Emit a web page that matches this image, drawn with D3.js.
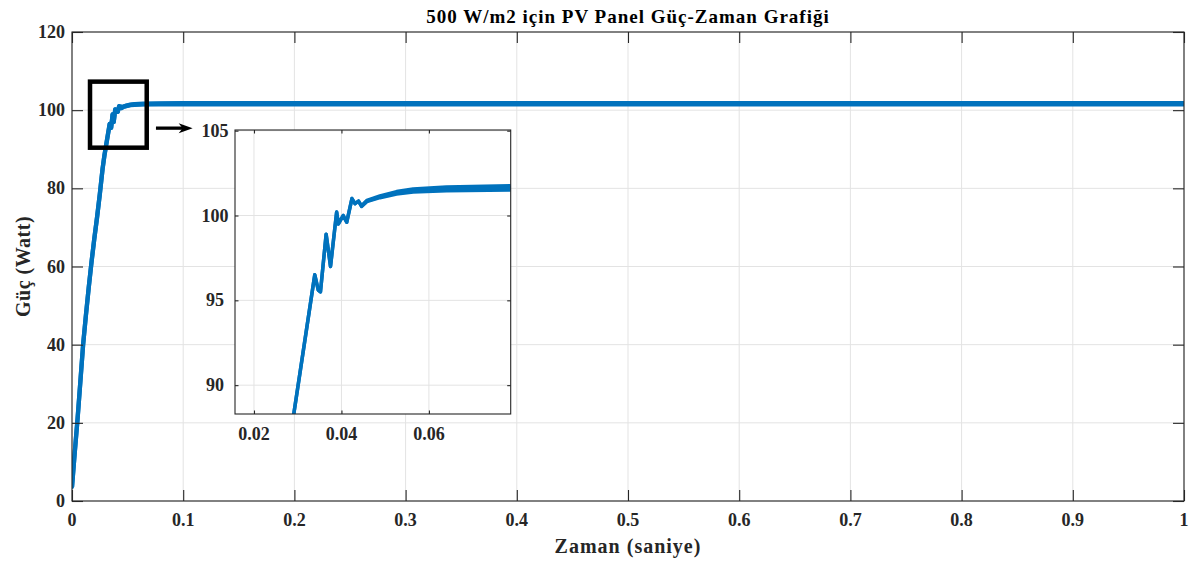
<!DOCTYPE html>
<html>
<head>
<meta charset="utf-8">
<script src="https://cdn.jsdelivr.net/npm/d3@7"></script>
<style>
  html, body { margin: 0; padding: 0; background: #fff; }
  svg { display: block; font-family: "Liberation Serif", "Times New Roman", serif; font-weight: bold; }
</style>
</head>
<body>
<svg id="chart" width="1200" height="564"></svg>
<script>
// ---------------- data ----------------
const titleText = "500 W/m2 için PV Panel Güç-Zaman Grafiği";
const xLabel = "Zaman (saniye)";
const yLabel = "Güç (Watt)";

const time  = [0, 0.0025, 0.005, 0.0075, 0.01, 0.0125, 0.015, 0.0175, 0.02, 0.0225, 0.025, 0.0275, 0.0291,
               0.0336, 0.0339, 0.0347, 0.0352, 0.0365, 0.0375, 0.0389, 0.0393, 0.0404, 0.0412, 0.0424,
               0.0431, 0.0439, 0.0446, 0.0458, 0.0488, 0.0526, 0.0564, 0.064, 0.0785, 0.1, 0.2, 0.4, 0.6, 0.8, 1.0];
const power = [3.6, 12.5, 21, 30.5, 40, 47.5, 54.5, 61, 67, 72.5, 78.5, 85, 88.3,
               96.0, 96.5, 95.6, 95.5, 98.9, 97.0, 100.2, 99.5, 100.0, 99.6, 101.0,
               100.7, 100.85, 100.55, 100.85, 101.1, 101.34, 101.47, 101.57, 101.63, 101.65, 101.65, 101.65, 101.65, 101.65, 101.65];
// half-amplitude of the steady-state ripple band (W)
const ripple = [0, 0, 0, 0, 0, 0, 0, 0, 0, 0, 0, 0, 0,
                0, 0, 0, 0, 0, 0, 0, 0, 0, 0, 0,
                0, 0, 0.02, 0.035, 0.05, 0.07, 0.09, 0.11, 0.125, 0.13, 0.13, 0.13, 0.13, 0.13, 0.13];

const xTicks = [0, 0.1, 0.2, 0.3, 0.4, 0.5, 0.6, 0.7, 0.8, 0.9, 1];
const xTickLabels = ["0", "0.1", "0.2", "0.3", "0.4", "0.5", "0.6", "0.7", "0.8", "0.9", "1"];
const yTicks = [0, 20, 40, 60, 80, 100, 120];
const xDomain = [0, 1];
const yDomain = [0, 120];

const insetXTicks = [0.02, 0.04, 0.06];
const insetXTickLabels = ["0.02", "0.04", "0.06"];
const insetYTicks = [90, 95, 100, 105];
const insetXDomain = [0.01566, 0.0787];
const insetYDomain = [88.3, 105.04];

// zoom box and arrow annotation (main-axes data units)
const zoomBoxT = [0.0162, 0.0672];
const zoomBoxP = [90.4, 107.3];
const arrowT = [0.0755, 0.1085];
const arrowP = [95.4, 95.4];

// ---------------- layout ----------------
const W = 1200, H = 564;
const main = { left: 72, right: 1184, top: 32, bottom: 501 };
const inset = { left: 235, right: 510.7, top: 130, bottom: 414 };
const lineColor = "#0072BD";
const axisColor = "#262626";
const gridColor = "#e3e3e3";

const svg = d3.select("#chart");
svg.append("rect").attr("width", W).attr("height", H).attr("fill", "#fff");

const pts = time.map((t, i) => ({ t, p: power[i], r: ripple[i] }));

function drawAxes(g, box, xs, ys, xt, yt) {
  g.append("rect").attr("x", box.left).attr("y", box.top)
    .attr("width", box.right - box.left).attr("height", box.bottom - box.top)
    .attr("fill", "#fff");
  g.append("g").selectAll("line").data(xt).join("line")
    .attr("x1", d => xs(d)).attr("x2", d => xs(d))
    .attr("y1", box.top).attr("y2", box.bottom)
    .attr("stroke", gridColor).attr("stroke-width", 1);
  g.append("g").selectAll("line").data(yt).join("line")
    .attr("y1", d => ys(d)).attr("y2", d => ys(d))
    .attr("x1", box.left).attr("x2", box.right)
    .attr("stroke", gridColor).attr("stroke-width", 1);
}

function drawFrame(g, box, xs, ys, xt, xtl, yt, opts) {
  const tl = opts.tickLen;
  const fr = g.append("g");
  fr.append("rect").attr("x", box.left).attr("y", box.top)
    .attr("width", box.right - box.left).attr("height", box.bottom - box.top)
    .attr("fill", "none").attr("stroke", axisColor).attr("stroke-width", opts.frameW);
  const axB = d3.axisBottom(xs).tickValues(xt).tickSize(-tl).tickFormat("");
  const axT = d3.axisTop(xs).tickValues(xt).tickSize(-tl).tickFormat("");
  const axL = d3.axisLeft(ys).tickValues(yt).tickSize(-tl).tickFormat("");
  const axR = d3.axisRight(ys).tickValues(yt).tickSize(-tl).tickFormat("");
  [[axB, `translate(0,${box.bottom})`], [axT, `translate(0,${box.top})`],
   [axL, `translate(${box.left},0)`], [axR, `translate(${box.right},0)`]].forEach(([ax, tr]) => {
    const a = fr.append("g").attr("transform", tr).call(ax);
    a.select(".domain").remove();
    a.selectAll(".tick line").attr("stroke", axisColor).attr("stroke-width", opts.frameW);
  });
  fr.append("g").selectAll("text").data(xt).join("text")
    .attr("x", d => xs(d)).attr("y", opts.xLabelY)
    .attr("text-anchor", "middle").attr("font-size", opts.fs).attr("fill", axisColor)
    .text((d, i) => xtl[i]);
  fr.append("g").selectAll("text").data(yt).join("text")
    .attr("x", opts.yLabelX).attr("y", d => ys(d))
    .attr("dy", "0.34em")
    .attr("text-anchor", opts.yAnchor).attr("font-size", opts.fs).attr("fill", axisColor)
    .text(d => String(d));
}

function drawSeries(g, box, xs, ys, clipId, lw) {
  g.append("clipPath").attr("id", clipId).append("rect")
    .attr("x", box.left).attr("y", box.top)
    .attr("width", box.right - box.left).attr("height", box.bottom - box.top);
  const s = g.append("g").attr("clip-path", `url(#${clipId})`);
  const area = d3.area().x(d => xs(d.t)).y0(d => ys(d.p - d.r)).y1(d => ys(d.p + d.r));
  s.append("path").datum(pts).attr("d", area).attr("fill", lineColor)
    .attr("stroke", lineColor).attr("stroke-width", lw).attr("stroke-linejoin", "round");
  const line = d3.line().x(d => xs(d.t)).y(d => ys(d.p));
  s.append("path").datum(pts).attr("d", line).attr("fill", "none")
    .attr("stroke", lineColor).attr("stroke-width", lw).attr("stroke-linejoin", "round");
}

// ---------------- main axes ----------------
const x = d3.scaleLinear().domain(xDomain).range([main.left, main.right]);
const y = d3.scaleLinear().domain(yDomain).range([main.bottom, main.top]);
const gMain = svg.append("g");
drawAxes(gMain, main, x, y, xTicks, yTicks);
drawSeries(gMain, main, x, y, "clipMain", 4.3);
drawFrame(gMain, main, x, y, xTicks, xTickLabels, yTicks,
  { tickLen: 11, frameW: 1.1, fs: 18, xLabelY: 526, yLabelX: 65, yAnchor: "end" });

// title & axis labels
svg.append("text").attr("x", (main.left + main.right) / 2).attr("y", 23)
  .attr("text-anchor", "middle").attr("font-size", 19).attr("letter-spacing", "1px")
  .attr("fill", "#000").text(titleText);
svg.append("text").attr("x", (main.left + main.right) / 2).attr("y", 553)
  .attr("text-anchor", "middle").attr("font-size", 20).attr("letter-spacing", "1px")
  .attr("fill", axisColor).text(xLabel);
svg.append("text").attr("transform", `translate(30,${(main.top + main.bottom) / 2}) rotate(-90)`)
  .attr("text-anchor", "middle").attr("font-size", 20).attr("letter-spacing", "0.5px")
  .attr("fill", axisColor).text(yLabel);

// zoom box
svg.append("rect")
  .attr("x", x(zoomBoxT[0])).attr("y", y(zoomBoxP[1]))
  .attr("width", x(zoomBoxT[1]) - x(zoomBoxT[0])).attr("height", y(zoomBoxP[0]) - y(zoomBoxP[1]))
  .attr("fill", "none").attr("stroke", "#000").attr("stroke-width", 4.5);

// arrow
const ax0 = x(arrowT[0]), ax1 = x(arrowT[1]), ay = y(arrowP[0]);
svg.append("line").attr("x1", ax0).attr("x2", ax1 - 8).attr("y1", ay).attr("y2", ay)
  .attr("stroke", "#000").attr("stroke-width", 3.3);
svg.append("path")
  .attr("d", `M${ax1},${ay} L${ax1 - 14},${ay - 5} L${ax1 - 10},${ay} L${ax1 - 14},${ay + 5} Z`)
  .attr("fill", "#000");

// ---------------- inset axes ----------------
const xi = d3.scaleLinear().domain(insetXDomain).range([inset.left, inset.right]);
const yi = d3.scaleLinear().domain(insetYDomain).range([inset.bottom, inset.top]);
const gIn = svg.append("g");
drawAxes(gIn, inset, xi, yi, insetXTicks, insetYTicks);
drawSeries(gIn, inset, xi, yi, "clipInset", 3.5);
drawFrame(gIn, inset, xi, yi, insetXTicks, insetXTickLabels, insetYTicks,
  { tickLen: 3.5, frameW: 1.1, fs: 18, xLabelY: 440, yLabelX: 215, yAnchor: "middle" });
</script>
</body>
</html>
